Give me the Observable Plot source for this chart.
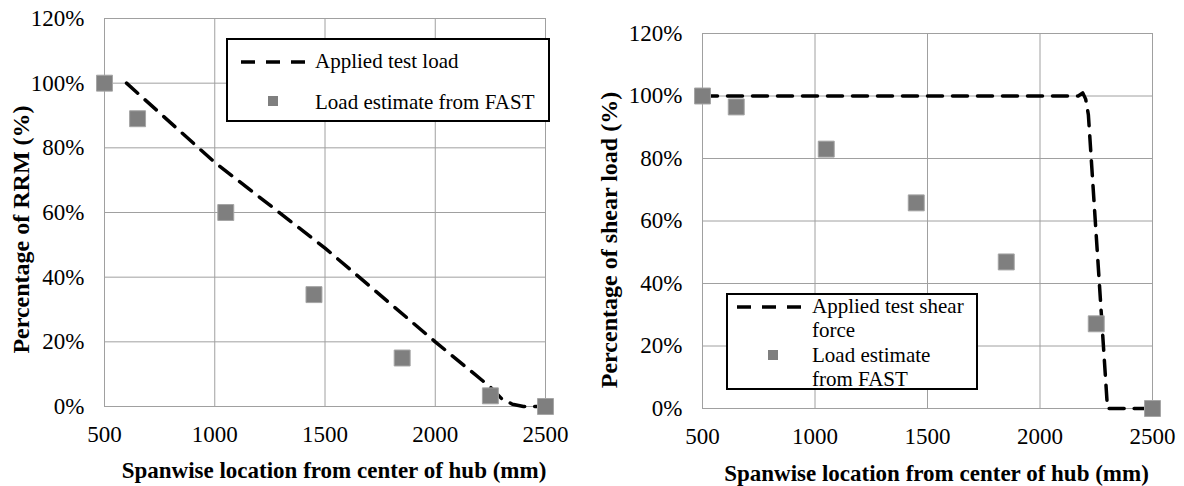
<!DOCTYPE html>
<html>
<head>
<meta charset="utf-8">
<script src="https://cdn.jsdelivr.net/npm/d3@7"></script>
<script src="https://cdn.jsdelivr.net/npm/@observablehq/plot@0.6"></script>
<style>
  html, body { margin: 0; padding: 0; background: #fff; }
  #wrap { position: relative; width: 1184px; height: 486px; }
  #left, #right { position: absolute; top: 0; }
  #left { left: 0; }
  #right { left: 590px; }
  .legend { position: absolute; border: 2px solid #000; background: #fff; box-sizing: border-box; font-size: 21px; color: #000; }
  .legend .row { position: absolute; white-space: nowrap; line-height: 24px; }
  .legend svg { position: absolute; }
</style>
</head>
<body>
<div id="wrap">
  <div id="left"></div>
  <div id="right"></div>
  <div class="legend" id="legL" style="left:226px; top:38px; width:324px; height:84px;">
    <svg style="left:11px; top:19px;" width="70" height="6"><line x1="2" y1="3" x2="68" y2="3" stroke="#000" stroke-width="3.5" stroke-dasharray="14,11"/></svg>
    <div class="row" style="left:87px; top:9px;">Applied test load</div>
    <svg style="left:40px; top:56px;" width="10" height="10"><rect x="0" y="0" width="10" height="10" fill="#7f7f7f"/></svg>
    <div class="row" style="left:87px; top:50px;">Load estimate from FAST</div>
  </div>
  <div class="legend" id="legR" style="left:726px; top:293px; width:252px; height:97px;">
    <svg style="left:7px; top:9px;" width="70" height="6"><line x1="2" y1="3" x2="68" y2="3" stroke="#000" stroke-width="3.5" stroke-dasharray="14,11"/></svg>
    <div class="row" style="left:84px; top:-1px; line-height:24.3px;">Applied test shear<br>force<br>Load estimate<br>from FAST</div>
    <svg style="left:40px; top:55px;" width="10" height="10"><rect x="0" y="0" width="10" height="10" fill="#7f7f7f"/></svg>
  </div>
</div>
<script>
// ---- data ----
const spanLoc = [500, 650, 1050, 1450, 1850, 2250, 2500];
const rrmFast = [100, 89, 60, 34.6, 15, 3.3, 0];
const shearFast = [100, 96.5, 83, 65.8, 46.9, 27.1, 0];
const rrmLineX = [600, 1000, 1500, 2000, 2250, 2300, 2350, 2400, 2500];
const rrmLineY = [100, 75.5, 49, 20, 6, 2.5, 0.7, 0, 0];
const shearLineX = [500, 2170, 2190, 2203, 2215, 2300, 2500];
const shearLineY = [100, 100, 101, 99, 94, 0, 0];
const xTicks = [500, 1000, 1500, 2000, 2500];
const yTicks = [0, 20, 40, 60, 80, 100, 120];
const xTitle = "Spanwise location from center of hub (mm)";
const yTitleL = "Percentage of RRM (%)";
const yTitleR = "Percentage of shear load (%)";

const serif = "Liberation Serif";
document.querySelectorAll(".legend").forEach(el => { el.style.fontFamily = serif; });

const gridColor = "#a0a0a0";
const fastPts = (ys) => spanLoc.map((x, i) => ({x, y: ys[i]}));
const linePts = (xs, ys) => xs.map((x, i) => ({x, y: ys[i]}));

function chart({width, mL, mR, mT, mB, pts, line, yTitle, yTitleDx, yTitleDy, xTitleDy, xTitleDx}) {
  const svg = Plot.plot({
    width, height: 486,
    marginLeft: mL, marginRight: mR, marginTop: mT, marginBottom: mB,
    style: {fontFamily: serif, fontSize: "23px", color: "#000", background: "transparent", overflow: "visible"},
    x: {domain: [500, 2500], ticks: xTicks},
    y: {domain: [0, 120], ticks: yTicks},
    marks: [
      Plot.gridX(xTicks, {stroke: gridColor, strokeOpacity: 1, strokeWidth: 1}),
      Plot.gridY(yTicks, {stroke: gridColor, strokeOpacity: 1, strokeWidth: 1}),
      Plot.frame({stroke: gridColor, strokeWidth: 1}),
      Plot.axisX(xTicks, {tickSize: 0, tickPadding: 19, label: null, tickFormat: d => String(d), fontSize: 23}),
      Plot.axisY(yTicks, {tickSize: 0, tickPadding: 20, label: null, tickFormat: d => `${d}%`, fontSize: 23}),
      Plot.line(line, {x: "x", y: "y", stroke: "#000", strokeWidth: 3.5, strokeDasharray: "15,10"}),
      Plot.dot(pts, {x: "x", y: "y", symbol: "square", r: 9, fill: "#7f7f7f", stroke: "#a5a5a5", strokeWidth: 1}),
      Plot.text([xTitle], {frameAnchor: "bottom", textAnchor: "middle", lineAnchor: "middle", dy: xTitleDy, dx: xTitleDx, fontWeight: "bold", fontSize: 23}),
      Plot.text([yTitle], {frameAnchor: "left", textAnchor: "middle", lineAnchor: "middle", rotate: -90, dx: yTitleDx, dy: yTitleDy, fontWeight: "bold", fontSize: 24})
    ]
  });
  svg.style.fontFamily = serif;
  svg.setAttribute("font-family", serif);
  return svg;
}

document.getElementById("left").appendChild(chart({
  width: 590, mL: 104, mR: 45, mT: 18, mB: 80,
  pts: fastPts(rrmFast), line: linePts(rrmLineX, rrmLineY),
  yTitle: yTitleL, yTitleDx: -83, yTitleDy: 17, xTitleDy: 64, xTitleDx: 9
}));
document.getElementById("right").appendChild(chart({
  width: 594, mL: 112, mR: 32, mT: 33, mB: 78,
  pts: fastPts(shearFast), line: linePts(shearLineX, shearLineY),
  yTitle: yTitleR, yTitleDx: -93, yTitleDy: 19, xTitleDy: 65, xTitleDx: 9
}));
</script>
</body>
</html>
